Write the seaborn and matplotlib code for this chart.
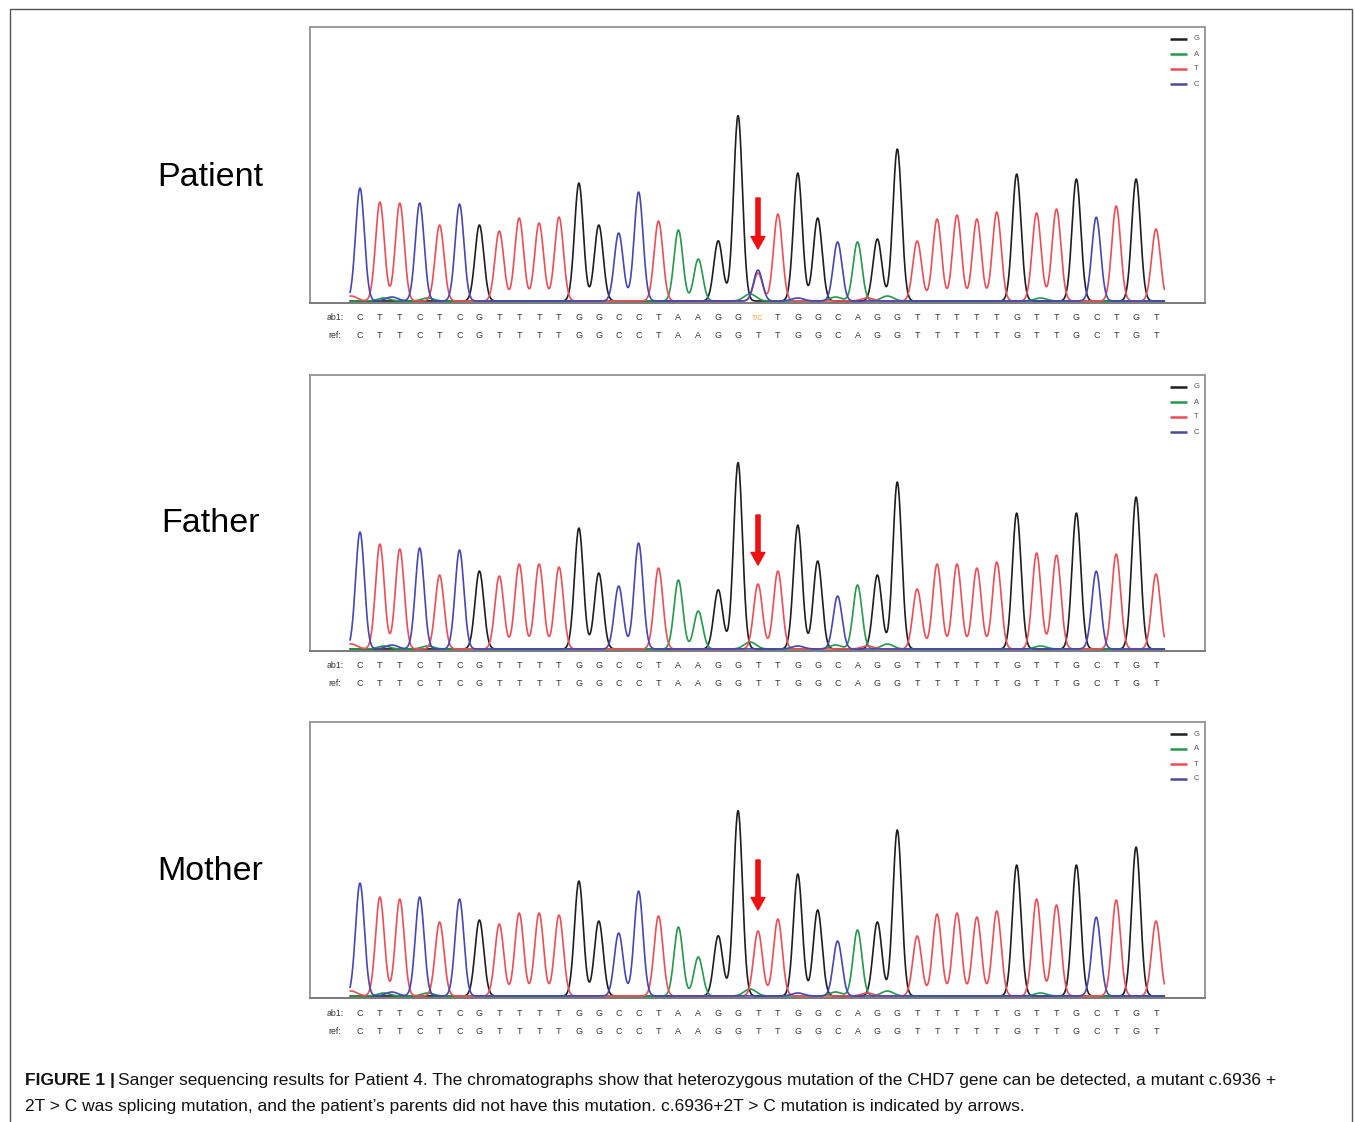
# Sanger sequencing chromatograms for Patient 4 and parents (CHD7 c.6936+2T>C)
import numpy as np
import pandas as pd
import matplotlib
matplotlib.use("Agg")
import matplotlib.pyplot as plt
from matplotlib.patches import Rectangle
import seaborn as sns

# reference sequence (41 bases) and called bases per sample
ref_seq = list("CTTCTCGTTTTGGCCTAAGGTTGGCAGGTTTTTGTTGCTGT")
patient_calls = ref_seq[:20] + ["T/C"] + ref_seq[21:]
parent_calls = ref_seq[:]

# peak heights of the called base at each position
patient_heights = [113, 99, 98, 98, 76, 97, 76, 70, 83, 78,
                   84, 118, 76, 68, 106, 80, 71, 42, 60, 183,
                   28, 87, 128, 83, 59, 59, 62, 152, 60, 82,
                   86, 82, 89, 127, 88, 88, 122, 81, 95, 122, 72]
father_heights = [117, 105, 100, 101, 74, 99, 78, 73, 85, 85,
                  82, 121, 76, 63, 103, 81, 69, 38, 59, 184,
                  65, 78, 124, 88, 53, 64, 74, 167, 60, 85,
                  85, 81, 87, 136, 96, 90, 136, 75, 95, 152, 75]
mother_heights = [113, 99, 97, 99, 74, 97, 76, 72, 83, 83,
                  81, 115, 75, 63, 102, 80, 69, 39, 60, 183,
                  65, 77, 122, 86, 55, 66, 74, 166, 60, 82,
                  83, 79, 85, 131, 97, 87, 131, 76, 96, 149, 75]

# heterozygous second peak in the patient (position, base, height)
patient_extra = [(20, "C", 31)]

# small background bumps near the baseline (base, position, height)
minor_peaks = [("T", -0.45, 5), ("A", 1.2, 3), ("C", 1.6, 4), ("A", 3.4, 3),
               ("C", 14.0, 3), ("G", 18.7, 4), ("A", 19.6, 7), ("C", 22.0, 3),
               ("A", 23.9, 4), ("T", 25.5, 3), ("A", 26.5, 5), ("A", 34.2, 3),
               ("T", 35.0, 4), ("C", 36.9, 3)]

samples = ["Patient", "Father", "Mother"]
bases = ["G", "A", "T", "C"]
base_colors = {"G": "#1e1e1e", "A": "#23994a", "T": "#ee4d55", "C": "#4646b4"}
legend_colors = {"G": "#1e1e1e", "A": "#23994a", "T": "#ee4d55", "C": "#4a4a9a"}


def build_traces(calls, heights, extra):
    # turn peak lists into a long table of trace signals
    x = np.linspace(-0.5, 40.42, 1800)
    sigma = 0.22
    signal = {b: np.zeros_like(x) for b in bases}
    for i, (call, h) in enumerate(zip(calls, heights)):
        b = call.split("/")[0]
        signal[b] += h * np.exp(-0.5 * ((x - i) / sigma) ** 2)
    for i, b, h in extra:
        signal[b] += h * np.exp(-0.5 * ((x - i) / sigma) ** 2)
    for b, pos, h in minor_peaks:
        signal[b] += h * np.exp(-0.5 * ((x - pos) / 0.3) ** 2)
    frames = [pd.DataFrame({"pos": x, "signal": signal[b], "base": b}) for b in bases]
    return pd.concat(frames, ignore_index=True)


sns.set_style("white")
plt.rcParams["font.family"] = ["Liberation Sans", "DejaVu Sans"]

W, H = 1355, 1122
fig = plt.figure(figsize=(W / 100, H / 100), dpi=100)

panel_tops = [27, 375, 722]
arrow_px = [(198, 249), (515, 565), (860, 910)]
label_y = [177, 524, 871]
data = {
    "Patient": (patient_calls, patient_heights, patient_extra),
    "Father": (parent_calls, father_heights, []),
    "Mother": (parent_calls, mother_heights, []),
}

ax_h = 276
px_per_base = 19.9
for k, name in enumerate(samples):
    top = panel_tops[k]
    bottom = top + ax_h
    ax = fig.add_axes([310 / W, 1 - bottom / H, 895 / W, ax_h / H])
    calls, heights, extra = data[name]
    df = build_traces(calls, heights, extra)
    sns.lineplot(data=df, x="pos", y="signal", hue="base", hue_order=bases,
                 palette=base_colors, estimator=None, sort=False,
                 linewidth=1.2, legend=False, ax=ax)
    ax.set_xlim(-50 / px_per_base, 845 / px_per_base)
    ax.set_ylim(-2, ax_h - 2)
    ax.set_xticks([])
    ax.set_yticks([])
    ax.set_xlabel("")
    ax.set_ylabel("")
    for side, sp in ax.spines.items():
        sp.set_visible(True)
        sp.set_color("#9a9a9a" if side != "bottom" else "#7a7a7a")
        sp.set_linewidth(1.4)

    # base channel key in the corner
    for j, b in enumerate(bases):
        yy = (ax_h - (12 + 15 * j)) / ax_h
        ax.plot([0.961, 0.980], [yy, yy], transform=ax.transAxes,
                color=legend_colors[b], lw=1.8, solid_capstyle="butt")
        ax.text(0.9875, yy, b, transform=ax.transAxes, fontsize=5.5,
                color="#555555", va="center", ha="left")

    # mutation arrow
    base_y = bottom - 2
    y_top, y_tip = arrow_px[k]
    ax.annotate("", xy=(20, base_y - y_tip), xytext=(20, base_y - y_top),
                arrowprops=dict(facecolor="#ee1111", edgecolor="#ee1111",
                                width=3, headwidth=10, headlength=9))

    # called bases under the trace
    tr = ax.get_xaxis_transform()
    y_ab1 = -15 / ax_h
    y_ref = -33 / ax_h
    ax.text(-1.25, y_ab1, "ab1:", transform=tr, fontsize=6.3, color="#333333",
            ha="center", va="center", clip_on=False)
    ax.text(-1.25, y_ref, "ref:", transform=tr, fontsize=6.3, color="#333333",
            ha="center", va="center", clip_on=False)
    for i, (c, r) in enumerate(zip(calls, ref_seq)):
        col = "#f0a030" if "/" in c else "#333333"
        ax.text(i, y_ab1, c, transform=tr, fontsize=6.5 if "/" not in c else 5,
                color=col, ha="center", va="center", clip_on=False)
        ax.text(i, y_ref, r, transform=tr, fontsize=6.5, color="#333333",
                ha="center", va="center", clip_on=False)

    fig.text(210 / W, 1 - label_y[k] / H, name, fontsize=24.5, color="black",
             ha="center", va="center")

# outer frame
fig.add_artist(Rectangle((10 / W, -0.02), (1352 - 10) / W, 1.02 - 9 / H,
                         transform=fig.transFigure, fill=False,
                         edgecolor="#555555", linewidth=1.0))

# caption
renderer = fig.canvas.get_renderer()
cap_y1 = 1 - 1081 / H
cap_y2 = 1 - 1107 / H
t_bold = fig.text(25 / W, cap_y1, "FIGURE 1 |", fontsize=12.5, fontweight="bold",
                  ha="left", va="center", color="#111111")
ext = t_bold.get_window_extent(renderer=renderer)
fig.text((ext.x1 + 3) / W, cap_y1,
         "Sanger sequencing results for Patient 4. The chromatographs show that heterozygous "
         "mutation of the CHD7 gene can be detected, a mutant c.6936 +",
         fontsize=12.5, ha="left", va="center", color="#111111")
fig.text(25 / W, cap_y2,
         "2T > C was splicing mutation, and the patient\u2019s parents did not have this "
         "mutation. c.6936+2T > C mutation is indicated by arrows.",
         fontsize=12.5, ha="left", va="center", color="#111111")

fig.savefig("out.png", dpi=100)
plt.close(fig)
